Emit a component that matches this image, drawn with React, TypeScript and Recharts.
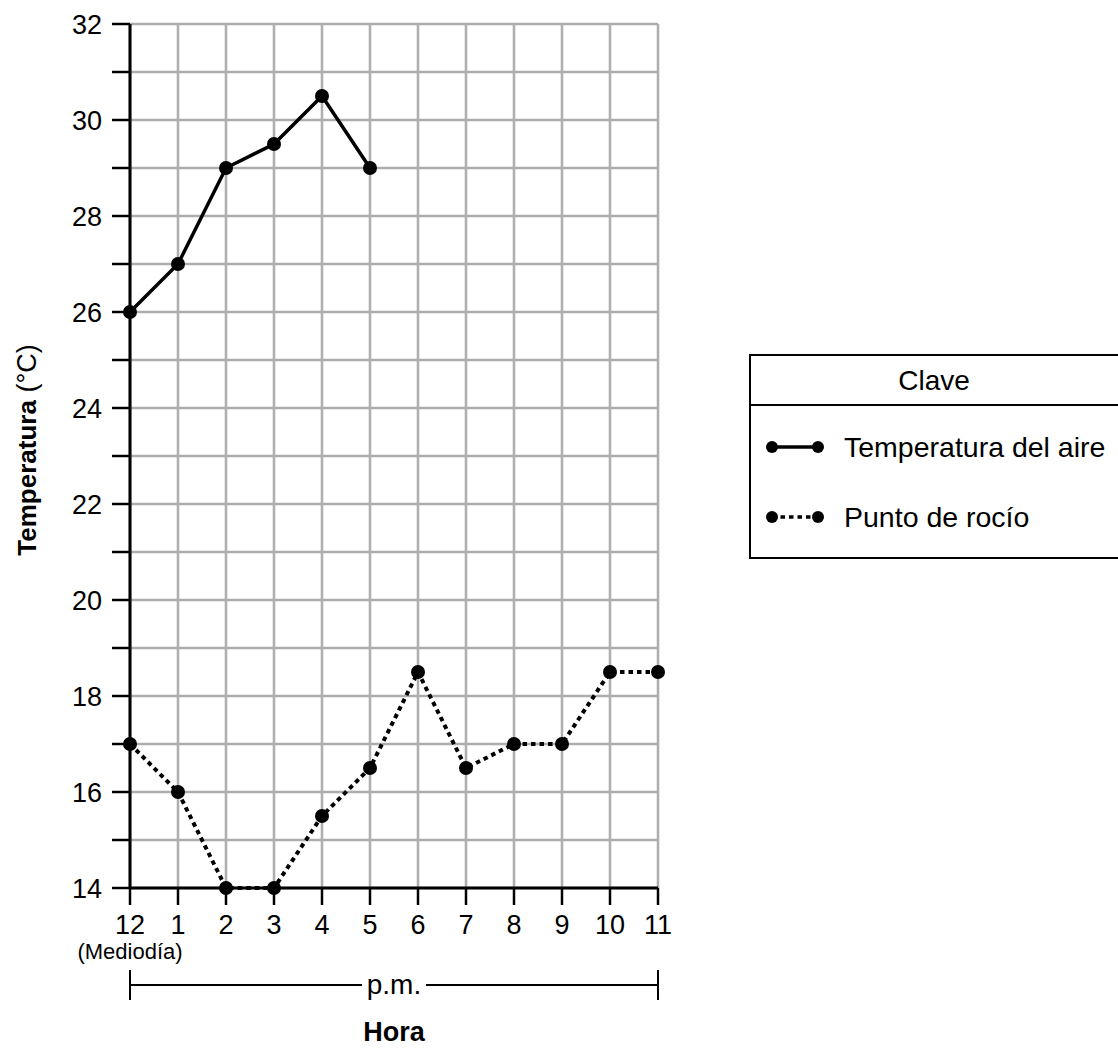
import { LineChart, Line, XAxis, YAxis, CartesianGrid, Legend } from "recharts";

const hours = ["12", "1", "2", "3", "4", "5", "6", "7", "8", "9", "10", "11"];
const airTemp = [26, 27, 29, 29.5, 30.5, 29, null, null, null, null, null, null];
const dewPoint = [17, 16, 14, 14, 15.5, 16.5, 18.5, 16.5, 17, 17, 18.5, 18.5];
const tempTicks = [14, 15, 16, 17, 18, 19, 20, 21, 22, 23, 24, 25, 26, 27, 28, 29, 30, 31, 32];
const keyOrder = ["Temperatura del aire", "Punto de rocío"];

const data = hours.map((h, i) => ({ hour: h, air: airTemp[i], dew: dewPoint[i] }));

const FONT = "'Liberation Sans', Arial, Helvetica, sans-serif";

const HourTick = ({ x, y, payload }: any) => (
  <g>
    <text x={x} y={y} dy={27} textAnchor="middle" fontSize={27} fill="#000" fontFamily={FONT}>
      {payload.value}
    </text>
    {payload.value === "12" && (
      <text x={x} y={y} dy={52} textAnchor="middle" fontSize={22} fill="#000" fontFamily={FONT}>
        (Mediodía)
      </text>
    )}
  </g>
);

// bracket + "p.m." + "Hora" below the hour axis
const HourLabel = ({ viewBox }: any) => {
  const { x, y, width } = viewBox;
  const by = y + 97;
  const mid = x + width / 2;
  return (
    <g fontFamily={FONT} fill="#000">
      <line x1={x} x2={mid - 32} y1={by} y2={by} stroke="#000" strokeWidth={2} />
      <line x1={mid + 32} x2={x + width} y1={by} y2={by} stroke="#000" strokeWidth={2} />
      <line x1={x} x2={x} y1={by - 15} y2={by + 15} stroke="#000" strokeWidth={2} />
      <line x1={x + width} x2={x + width} y1={by - 15} y2={by + 15} stroke="#000" strokeWidth={2} />
      <text x={mid} y={by + 9} textAnchor="middle" fontSize={28}>p.m.</text>
      <text x={mid} y={y + 153} textAnchor="middle" fontSize={27} fontWeight="bold">Hora</text>
    </g>
  );
};

const TempLabel = ({ viewBox }: any) => {
  const cx = viewBox.x + 27;
  const cy = 450;
  return (
    <text
      x={cx}
      y={cy}
      transform={`rotate(-90 ${cx} ${cy})`}
      textAnchor="middle"
      dominantBaseline="central"
      fontSize={26}
      fontFamily={FONT}
      fill="#000"
    >
      <tspan fontWeight="bold">Temperatura</tspan>
      <tspan fontSize={27}> (°C)</tspan>
    </text>
  );
};

const KeyBox = ({ payload }: any) => {
  const items = [...(payload || [])].sort(
    (a: any, b: any) => keyOrder.indexOf(a.value) - keyOrder.indexOf(b.value)
  );
  return (
    <svg width={369} height={206} style={{ display: "block" }} fontFamily={FONT}>
      <rect x={1} y={1} width={420} height={203} fill="#fff" stroke="#000" strokeWidth={2} />
      <line x1={1} x2={369} y1={51} y2={51} stroke="#000" strokeWidth={2} />
      <text x={185} y={36} textAnchor="middle" fontSize={28} fill="#000">Clave</text>
      {items.map((entry: any, i: number) => {
        const cy = 93 + i * 70;
        return (
          <g key={entry.value}>
            <line
              x1={23}
              x2={69}
              y1={cy}
              y2={cy}
              stroke="#000"
              strokeWidth={3.5}
              strokeDasharray={entry.payload?.strokeDasharray}
            />
            <circle cx={23} cy={cy} r={6} fill="#000" />
            <circle cx={69} cy={cy} r={6} fill="#000" />
            <text x={95} y={cy + 10} fontSize={28.5} fill="#000">{entry.value}</text>
          </g>
        );
      })}
    </svg>
  );
};

export default function App() {
  return (
    <div style={{ width: 1118, height: 1051, overflow: "hidden", position: "relative" }}>
      <style>{`body{margin:0;overflow:hidden;}`}</style>
      <LineChart
        width={1118}
        height={1051}
        data={data}
        margin={{ top: 24, left: 0, right: 460, bottom: 0 }}
      >
        <CartesianGrid stroke="#adadad" strokeWidth={2.5} />
        <XAxis
          dataKey="hour"
          height={163}
          interval={0}
          tickSize={17}
          tickMargin={2}
          axisLine={{ stroke: "#000", strokeWidth: 3 }}
          tickLine={{ stroke: "#000", strokeWidth: 2.5 }}
          tick={<HourTick />}
          label={{ content: HourLabel }}
        />
        <YAxis
          type="number"
          domain={[14, 32]}
          ticks={tempTicks}
          interval={0}
          width={130}
          tickSize={18}
          tickMargin={10}
          axisLine={{ stroke: "#000", strokeWidth: 3 }}
          tickLine={{ stroke: "#000", strokeWidth: 2.5 }}
          tick={{ fontSize: 27, fill: "#000", fontFamily: FONT }}
          tickFormatter={(v) => (v % 2 === 0 ? String(v) : "")}
          label={{ content: TempLabel }}
        />
        <Legend
          layout="horizontal"
          verticalAlign="middle"
          align="center"
          content={KeyBox}
          wrapperStyle={{ left: 749, top: 354, width: 369, height: 206 }}
        />
        <Line
          name="Temperatura del aire"
          dataKey="air"
          stroke="#000"
          strokeWidth={3.5}
          dot={{ r: 7, fill: "#000", stroke: "#000", strokeWidth: 0 }}
          activeDot={false}
          isAnimationActive={false}
        />
        <Line
          name="Punto de rocío"
          dataKey="dew"
          stroke="#000"
          strokeWidth={4}
          strokeDasharray="4.5 4"
          dot={{ r: 7, fill: "#000", stroke: "#000", strokeWidth: 0 }}
          activeDot={false}
          isAnimationActive={false}
        />
      </LineChart>
    </div>
  );
}
